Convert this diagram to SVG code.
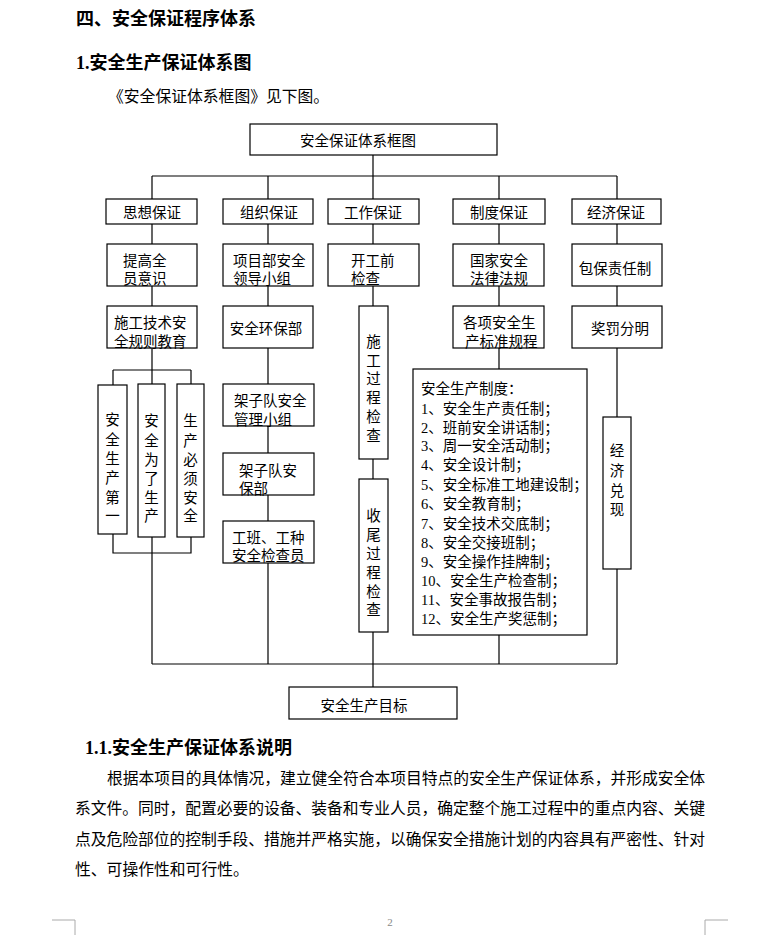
<svg xmlns="http://www.w3.org/2000/svg" width="778" height="935" viewBox="0 0 778 935">
<style>
.bx{fill:#fff;stroke:#000;stroke-width:1.2}
.t{font-family:"Liberation Serif","Noto Sans CJK SC",serif;font-size:14.5px;fill:#000}
.c{text-anchor:middle}
.h{font-family:"Liberation Serif","Noto Sans CJK SC",serif;font-weight:bold;font-size:18px;fill:#000}
.p{font-family:"Liberation Serif","Noto Sans CJK SC",serif;font-size:15.8px;fill:#000}
.ln{stroke:#000;stroke-width:1.2;fill:none}
</style>
<rect width="778" height="935" fill="#fff"/>
<text class="h" x="76" y="25">四、安全保证程序体系</text>
<text class="h" x="76" y="69">1.安全生产保证体系图</text>
<text class="p" x="108" y="102" font-size="15.5">《安全保证体系框图》见下图。</text>

<g id="connectors">
<path class="ln" d="M373 155V199M152 176H617M152 176V199M268 176V199M499 176V199M617 176V199"/>
<path class="ln" d="M152 224V244M152 286V306M152 348V370M113 370H191M113 370V385M152 370V384M191 370V384M113 534V553H191V537M152 537V664"/>
<path class="ln" d="M268 224V244M268 286V306M268 348V384M268 426V453M268 495V521M268 563V664"/>
<path class="ln" d="M373 224V244M373 286V306M373 459V479M373 632V687"/>
<path class="ln" d="M499 224V244M499 286V306M499 348V369M499 635V664"/>
<path class="ln" d="M617 224V244M617 286V306M617 348V417M617 569V664"/>
<path class="ln" d="M152 664H617"/>
</g>

<g id="n-title"><rect class="bx" x="250" y="124" width="247" height="31"/><text class="t c" x="358" y="145.5">安全保证体系框图</text></g>

<g id="n-sixiang"><rect class="bx" x="106" y="199" width="91" height="25"/><text class="t c" x="152" y="217.5">思想保证</text></g>
<g id="n-zuzhi"><rect class="bx" x="223" y="199" width="90" height="25"/><text class="t c" x="269" y="217.5">组织保证</text></g>
<g id="n-gongzuo"><rect class="bx" x="328" y="199" width="91" height="25"/><text class="t c" x="373" y="217.5">工作保证</text></g>
<g id="n-zhidu"><rect class="bx" x="453" y="199" width="92" height="25"/><text class="t c" x="499" y="217.5">制度保证</text></g>
<g id="n-jingji"><rect class="bx" x="572" y="199" width="89" height="25"/><text class="t c" x="616" y="217.5">经济保证</text></g>

<g id="n-tigao"><rect class="bx" x="107" y="244" width="90" height="42"/><text class="t" x="123" y="265.5">提高全</text><text class="t" x="123" y="283.5">员意识</text></g>
<g id="n-xiangmu"><rect class="bx" x="223" y="244" width="90" height="42"/><text class="t" x="233" y="265.5">项目部安全</text><text class="t" x="233" y="283.5">领导小组</text></g>
<g id="n-kaigong"><rect class="bx" x="328" y="244" width="91" height="42"/><text class="t" x="351" y="265.5">开工前</text><text class="t" x="351" y="283.5">检查</text></g>
<g id="n-guojia"><rect class="bx" x="453" y="244" width="91" height="42"/><text class="t" x="470" y="265.5">国家安全</text><text class="t" x="470" y="283.5">法律法规</text></g>
<g id="n-baobao"><rect class="bx" x="572" y="244" width="90" height="42"/><text class="t c" x="615" y="273.5">包保责任制</text></g>

<g id="n-shigongjishu"><rect class="bx" x="107" y="306" width="90" height="42"/><text class="t" x="114" y="327.5">施工技术安</text><text class="t" x="114" y="346.5">全规则教育</text></g>
<g id="n-huanbao"><rect class="bx" x="223" y="306" width="90" height="42"/><text class="t c" x="266" y="333.5">安全环保部</text></g>
<g id="n-gexiang"><rect class="bx" x="453" y="306" width="91" height="42"/><text class="t" x="463" y="327.5">各项安全生</text><text class="t" x="465" y="346.5">产标准规程</text></g>
<g id="n-jiangfa"><rect class="bx" x="572" y="306" width="90" height="42"/><text class="t c" x="620" y="333.5">奖罚分明</text></g>

<g id="n-shigongguocheng"><rect class="bx" x="359" y="306" width="29" height="153"/>
<g class="t c"><text x="373.5" y="346.5">施</text><text x="373.5" y="365.5">工</text><text x="373.5" y="383.5">过</text><text x="373.5" y="402.5">程</text><text x="373.5" y="421.5">检</text><text x="373.5" y="440.5">查</text></g></g>
<g id="n-shouwei"><rect class="bx" x="359" y="479" width="29" height="153"/>
<g class="t c"><text x="373.5" y="520.5">收</text><text x="373.5" y="539.5">尾</text><text x="373.5" y="558.5">过</text><text x="373.5" y="577.5">程</text><text x="373.5" y="596.5">检</text><text x="373.5" y="614.5">查</text></g></g>

<g id="n-diyi"><rect class="bx" x="98" y="385" width="29" height="149"/>
<g class="t c"><text x="112.5" y="424.5">安</text><text x="112.5" y="444.5">全</text><text x="112.5" y="463.5">生</text><text x="112.5" y="482.5">产</text><text x="112.5" y="502.5">第</text><text x="112.5" y="520.5">一</text></g></g>
<g id="n-weile"><rect class="bx" x="138" y="384" width="27" height="153"/>
<g class="t c"><text x="151.5" y="425.5">安</text><text x="151.5" y="445.5">全</text><text x="151.5" y="464.5">为</text><text x="151.5" y="483.5">了</text><text x="151.5" y="502.5">生</text><text x="151.5" y="520.5">产</text></g></g>
<g id="n-bixu"><rect class="bx" x="177" y="384" width="27" height="153"/>
<g class="t c"><text x="190.5" y="425.5">生</text><text x="190.5" y="445.5">产</text><text x="190.5" y="464.5">必</text><text x="190.5" y="483.5">须</text><text x="190.5" y="502.5">安</text><text x="190.5" y="520.5">全</text></g></g>

<g id="n-jiazi1"><rect class="bx" x="223" y="384" width="91" height="42"/><text class="t" x="234" y="405.5">架子队安全</text><text class="t" x="234" y="424.5">管理小组</text></g>
<g id="n-jiazi2"><rect class="bx" x="223" y="453" width="91" height="42"/><text class="t" x="239" y="475.5">架子队安</text><text class="t" x="239" y="493.5">保部</text></g>
<g id="n-gongban"><rect class="bx" x="223" y="521" width="91" height="42"/><text class="t" x="232" y="542.5">工班、工种</text><text class="t" x="232" y="560.5">安全检查员</text></g>

<g id="n-zhidulist"><rect class="bx" x="413" y="369" width="174" height="266"/>
<g class="t"><text x="421" y="393.5">安全生产制度：</text>
<text x="421" y="413.5">1、安全生产责任制；</text>
<text x="421" y="432.5">2、班前安全讲话制；</text>
<text x="421" y="450.5">3、周一安全活动制；</text>
<text x="421" y="469.5">4、安全设计制；</text>
<text x="421" y="489.5">5、安全标准工地建设制；</text>
<text x="421" y="508.5">6、安全教育制；</text>
<text x="421" y="528.5">7、安全技术交底制；</text>
<text x="421" y="547.5">8、安全交接班制；</text>
<text x="421" y="566.5">9、安全操作挂牌制；</text>
<text x="421" y="585.5">10、安全生产检查制；</text>
<text x="421" y="604.5">11、安全事故报告制；</text>
<text x="421" y="623.5">12、安全生产奖惩制；</text></g></g>

<g id="n-duixian"><rect class="bx" x="603" y="417" width="28" height="152"/>
<g class="t c"><text x="617" y="455.5">经</text><text x="617" y="475.5">济</text><text x="617" y="495.5">兑</text><text x="617" y="514.5">现</text></g></g>

<g id="n-mubiao"><rect class="bx" x="289" y="687" width="168" height="32"/><text class="t c" x="364" y="710.5">安全生产目标</text></g>

<text class="h" x="85" y="754" font-size="17.5">1.1.安全生产保证体系说明</text>
<text class="p" x="107" y="784" textLength="598" lengthAdjust="spacing">根据本项目的具体情况，建立健全符合本项目特点的安全生产保证体系，并形成安全体</text>
<text class="p" x="75" y="814" textLength="630" lengthAdjust="spacing">系文件。同时，配置必要的设备、装备和专业人员，确定整个施工过程中的重点内容、关键</text>
<text class="p" x="75" y="845" textLength="630" lengthAdjust="spacing">点及危险部位的控制手段、措施并严格实施，以确保安全措施计划的内容具有严密性、针对</text>
<text class="p" x="75" y="875">性、可操作性和可行性。</text>

<path d="M52 920H75V935M728 920H705V935" stroke="#aaa" stroke-width="1" fill="none"/>
<text x="390" y="926" font-family="Liberation Serif,serif" font-size="11" fill="#888" text-anchor="middle">2</text>
</svg>
